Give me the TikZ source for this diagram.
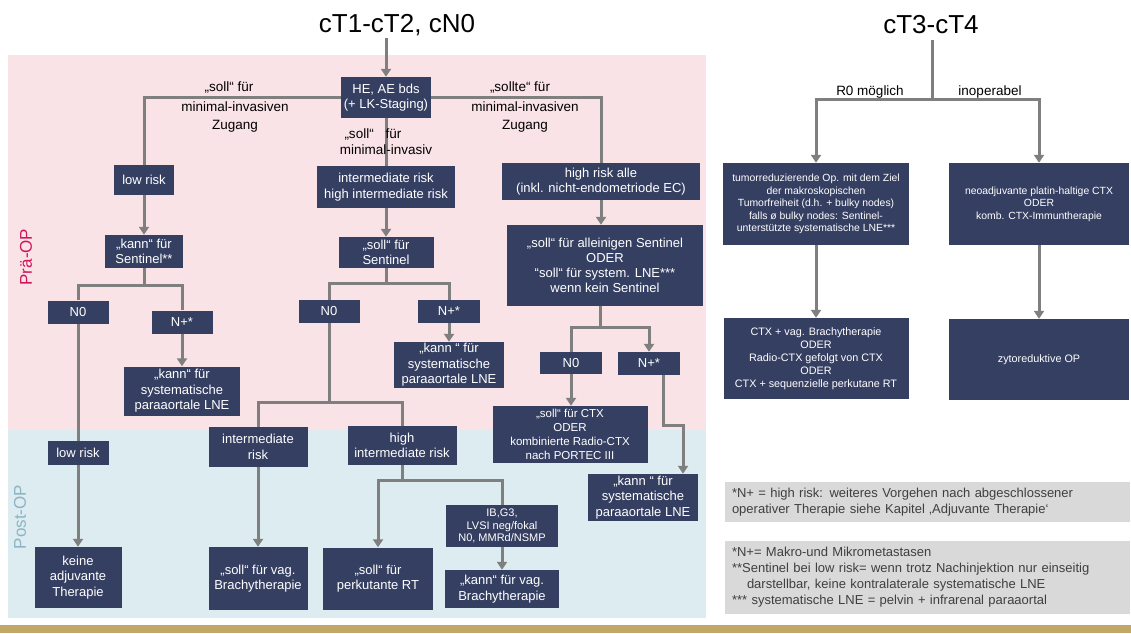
\documentclass[tikz,border=0pt]{standalone}
\usepackage{fontspec}
\setmainfont{Liberation Sans}
\usetikzlibrary{arrows.meta}
\definecolor{navy}{HTML}{353F62}
\definecolor{lgray}{HTML}{7F7F7F}
\definecolor{pinkbg}{HTML}{F9E3E7}
\definecolor{bluebg}{HTML}{DCECF0}
\definecolor{prared}{HTML}{D0145A}
\definecolor{postblue}{HTML}{8DB4C4}
\definecolor{notebg}{HTML}{D9D9D9}
\definecolor{notetxt}{HTML}{3F3F3F}
\definecolor{gold}{HTML}{C2A866}
\begin{document}
\begin{tikzpicture}[x=1pt,y=-1pt,
 box/.style={fill=navy,text=white,align=center,inner sep=1pt,font=\fontsize{13}{15.5}\selectfont},
 sbox/.style={box,font=\fontsize{10.4}{12.6}\selectfont},
 mbox/.style={box,font=\fontsize{11.5}{14.2}\selectfont},
 conn/.style={draw=lgray,line width=3pt},
 arr/.style={conn,-{Triangle[width=10pt,length=8pt]}},
 lbl/.style={font=\fontsize{13.5}{18}\selectfont,align=center,inner sep=0pt},
 ttl/.style={font=\fontsize{26}{30}\selectfont,anchor=base,inner sep=0pt},
 note/.style={fill=notebg,text=notetxt,align=left,inner xsep=7pt,inner ysep=0pt,text width=391pt,font=\fontsize{13}{16}\selectfont}
]
\useasboundingbox (0,0) rectangle (1131,633);
% backgrounds
\fill[pinkbg] (8,55) rectangle (706,430);
\fill[bluebg] (8,430) rectangle (706,618);
\fill[gold] (0,625) rectangle (1131,633);

\node[rotate=90,text=prared,font=\fontsize{17}{20}\selectfont] (pre) at (26,257) {Prä-OP};
\node[rotate=90,text=postblue,font=\fontsize{17}{20}\selectfont] (post) at (20,517) {Post-OP};

% titles
\node[ttl] (t1) at (397,32) {cT1-cT2, cN0};
\node[ttl] (t2) at (931,33) {cT3-cT4};

% left tree boxes
\node[box,minimum width=90pt,minimum height=41pt] (he) at (386,97.5) {HE, AE bds\\(+ LK-Staging)};
\node[box,minimum width=60pt,minimum height=30pt] (lowpre) at (144,180) {low risk};
\node[box,minimum width=78pt,minimum height=33pt] (kannS) at (144,251.5) {„kann“ für\\Sentinel**};
\node[box,minimum width=61pt,minimum height=23pt] (n0a) at (78,312) {N0};
\node[box,minimum width=61pt,minimum height=23pt] (npa) at (182,322) {N+*};
\node[box,minimum width=116pt,minimum height=49pt] (kannLNEa) at (182,391) {„kann“ für\\systematische\\paraaortale LNE};
\node[box,minimum width=61pt,minimum height=24pt] (lowpost) at (78,453) {low risk};
\node[box,minimum width=87pt,minimum height=61pt] (keine) at (78,577.5) {keine\\adjuvante\\Therapie};

\node[box,minimum width=138pt,minimum height=42pt] (int) at (386,187) {intermediate risk\\high intermediate risk};
\node[box,minimum width=95pt,minimum height=31pt] (sent) at (386,252.5) {„soll“ für\\Sentinel};
\node[box,minimum width=61pt,minimum height=23pt] (n0b) at (329,311.5) {N0};
\node[box,minimum width=62pt,minimum height=23pt] (npb) at (449,311.5) {N+*};
\node[box,minimum width=110pt,minimum height=46pt] (kannLNEb) at (449,365) {„kann “ für\\systematische\\paraaortale LNE};
\node[box,minimum width=99pt,minimum height=40pt] (intr) at (258,447) {intermediate\\risk};
\node[box,minimum width=109pt,minimum height=39pt] (hir) at (402,445.5) {high\\intermediate risk};
\node[box,minimum width=99pt,minimum height=63pt] (vagB) at (258,578.5) {„soll“ für vag.\\Brachytherapie};
\node[box,minimum width=110pt,minimum height=62pt] (perk) at (378,578.5) {„soll“ für\\perkutante RT};
\node[box,font=\fontsize{11}{12.6}\selectfont,minimum width=112pt,minimum height=42pt] (ib) at (502,526) {IB,G3,\\LVSI neg/fokal\\N0, MMRd/NSMP};
\node[box,minimum width=114pt,minimum height=38pt] (kannB) at (502,589) {„kann“ für vag.\\Brachytherapie};

\node[box,minimum width=198pt,minimum height=37pt] (highall) at (601,181.5) {high risk alle\\(inkl. nicht-endometriode EC)};
\node[box,font=\fontsize{13}{14.8}\selectfont,minimum width=196pt,minimum height=81pt] (alleinig) at (605,265.5) {„soll“ für alleinigen Sentinel\\ODER\\“soll“ für system. LNE***\\wenn kein Sentinel};
\node[box,minimum width=62pt,minimum height=22pt] (n0c) at (571,363) {N0};
\node[box,minimum width=62pt,minimum height=23pt] (npc) at (649,363.5) {N+*};
\node[mbox,minimum width=155pt,minimum height=57pt] (ctx) at (570,434.5) {„soll“ für CTX\\ODER\\kombinierte Radio-CTX\\nach PORTEC III};
\node[box,minimum width=110pt,minimum height=47pt] (kannLNEc) at (643,497.5) {„kann “ für\\systematische\\paraaortale LNE};

% right tree boxes
\node[sbox,minimum width=186pt,minimum height=82pt] (tumor) at (816,204) {tumorreduzierende Op. mit dem Ziel\\der makroskopischen\\Tumorfreiheit (d.h. + bulky nodes)\\falls ø bulky nodes: Sentinel-\\unterstützte systematische LNE***};
\node[sbox,minimum width=180pt,minimum height=82pt] (neo) at (1039,204) {neoadjuvante platin-haltige CTX\\ODER\\komb. CTX-Immuntherapie};
\node[sbox,font=\fontsize{10.8}{12.9}\selectfont,minimum width=185pt,minimum height=81pt] (ctxv) at (816,358.5) {CTX + vag. Brachytherapie\\ODER\\Radio-CTX gefolgt von CTX\\ODER\\CTX + sequenzielle perkutane RT};
\node[sbox,font=\fontsize{10.8}{12.9}\selectfont,minimum width=180pt,minimum height=81pt] (zyto) at (1039,359.5) {zytoreduktive OP};

% notes
\node[note,minimum height=40pt] (note1) at (927.5,502) {*N+ = high risk: weiteres Vorgehen nach abgeschlossener\\operativer Therapie siehe Kapitel ‚Adjuvante Therapie‘};
\node[note,minimum height=73pt] (note2) at (927.5,577.5) {*N+= Makro-und Mikrometastasen\\{}**Sentinel bei low risk= wenn trotz Nachinjektion nur einseitig\\\hspace*{15pt}darstellbar, keine kontralaterale systematische LNE\\{}*** systematische LNE = pelvin + infrarenal paraaortal};

% junction coordinates
\coordinate (t1b) at (386,38);
\coordinate (ja) at (144,285);
\coordinate (jb) at (386,283);
\coordinate (jd) at (329,402);
\coordinate (je) at (402,480);
\coordinate (jc) at (600,327);
\coordinate (k1) at (663,425);
\coordinate (k2) at (683,425);
\coordinate (t2b) at (932,40);
\coordinate (t2j) at (932,99);

% connectors left tree
\draw[arr] (t1b) -- (he);
\draw[conn] (he) -| (lowpre);
\draw[conn] (he) -| (highall);
\draw[conn] (he) -- (int);
\draw[arr] (int) -- (sent);
\draw[arr] (lowpre) -- (kannS);
\draw[conn] (kannS) -- (ja);
\draw[conn] (ja) -| (n0a);
\draw[conn] (ja) -| (npa);
\draw[arr] (npa) -- (kannLNEa);
\draw[conn] (n0a) -- (lowpost);
\draw[arr] (lowpost) -- (keine);
\draw[conn] (sent) -- (jb);
\draw[conn] (jb) -| (n0b);
\draw[conn] (jb) -| (npb);
\draw[arr] (npb) -- (kannLNEb);
\draw[conn] (n0b) -- (jd);
\draw[conn] (jd) -| (intr);
\draw[conn] (jd) -| (hir);
\draw[arr] (intr) -- (vagB);
\draw[conn] (hir) -- (je);
\draw[arr] (je) -| (perk);
\draw[conn] (je) -| (ib);
\draw[arr] (ib) -- (kannB);
\draw[arr] (highall.south) -- (highall.south |- alleinig.north);
\draw[conn] (alleinig.south -| jc) -- (jc);
\draw[conn] (jc) -| (n0c);
\draw[arr] (jc) -| (npc);
\draw[arr] (n0c) -- (n0c |- ctx.north);
\draw[arr] (npc.south -| k1) -- (k1) -- (k2) -- (k2 |- kannLNEc.north);

% connectors right tree
\draw[conn] (t2b) -- (t2j);
\draw[arr] (t2j) -| (tumor);
\draw[arr] (t2j) -| (neo);
\draw[arr] (tumor) -- (ctxv);
\draw[arr] (neo) -- (zyto);

% labels
\node[lbl] (la1) at (229,87) {„soll“ für};
\node[lbl] (la2) at (235,117) {minimal-invasiven\\Zugang};
\node[lbl] (lb1) at (373,134) {„soll“\hspace{12pt}für};
\node[lbl] (lb2) at (386,150) {minimal-invasiv};
\node[lbl] (lc1) at (520,87) {„sollte“ für};
\node[lbl] (lc2) at (525,117) {minimal-invasiven\\Zugang};
\node[lbl] (lr1) at (870,92) {R0 möglich};
\node[lbl] (lr2) at (990,92) {inoperabel};
\end{tikzpicture}
\end{document}
